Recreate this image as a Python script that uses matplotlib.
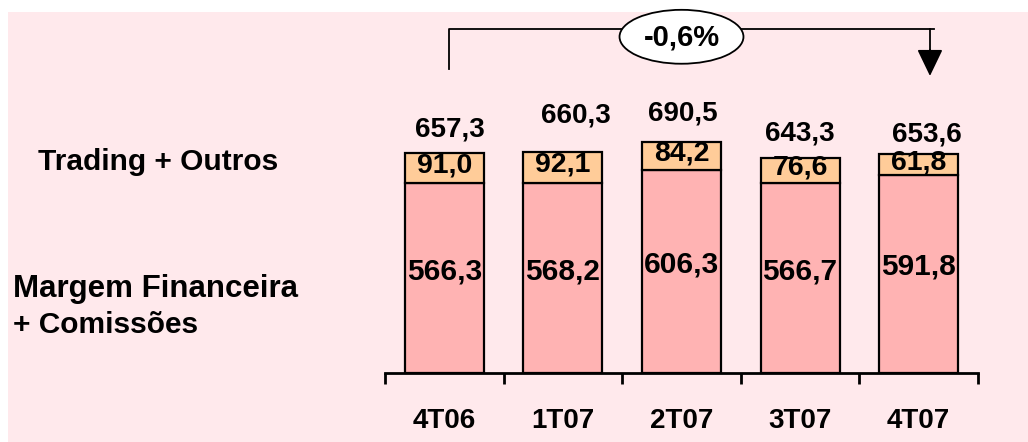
import matplotlib.pyplot as plt
from matplotlib.patches import Ellipse, Rectangle

# data
quarters = ['4T06', '1T07', '2T07', '3T07', '4T07']
margem = [566.3, 568.2, 606.3, 566.7, 591.8]
trading = [91.0, 92.1, 84.2, 76.6, 61.8]
totals = [657.3, 660.3, 690.5, 643.3, 653.6]
variation = '-0,6%'

# label nudges for the totals (points), hand placed like in the original slide
total_offsets = [(4, 17), (9, 26), (1, 20), (0, 17), (6, 14)]

plt.rcParams['font.family'] = ['Liberation Sans', 'DejaVu Sans']
plt.rcParams['font.weight'] = 'bold'

fig = plt.figure(figsize=(10.28, 4.42), dpi=100, facecolor='white')
fig.patches.append(Rectangle((8 / 1028, 0), 1, 430 / 442, transform=fig.transFigure,
                             facecolor='#FFE9EC', edgecolor='none', zorder=-1))

ax = fig.add_axes([385 / 1028, 69 / 442, 593 / 1028, 361 / 442])
ax.set_facecolor('none')

x = list(range(len(quarters)))
w = 0.666
ax.bar(x, margem, width=w, color='#FFB3B3', edgecolor='black', linewidth=1.6)
ax.bar(x, trading, width=w, bottom=margem, color='#FFCC99', edgecolor='black', linewidth=1.6)

for i in x:
    ax.text(i, margem[i] * 0.535, f'{margem[i]:.1f}'.replace('.', ','),
            ha='center', va='center', fontsize=21.5, fontweight='bold')
    ax.text(i, margem[i] + trading[i] * 0.6, f'{trading[i]:.1f}'.replace('.', ','),
            ha='center', va='center', fontsize=20.5, fontweight='bold')
    dx, dy = total_offsets[i]
    ax.annotate(f'{totals[i]:.1f}'.replace('.', ','), (i, totals[i]),
                xytext=(dx, dy), textcoords='offset points',
                ha='center', va='center', fontsize=20, fontweight='bold')

ax.set_xlim(-0.5, len(quarters) - 0.5)
ax.set_ylim(0, 1078)
for s in ['top', 'right', 'left']:
    ax.spines[s].set_visible(False)
ax.spines['bottom'].set_linewidth(2)
ax.set_yticks([])
ax.set_xticks(x)
ax.set_xticklabels(quarters, fontsize=20, fontweight='bold')
ax.tick_params(axis='x', which='major', length=0, pad=25)
ax.set_xticks([i - 0.5 for i in range(len(quarters) + 1)], minor=True)
ax.tick_params(axis='x', which='minor', length=8, width=2, direction='out')

# variation bracket
y_top = 1028
ax.plot([0.04, 0.04, 4.13], [908, y_top, y_top], color='black', lw=1.3, clip_on=False)
ax.plot([4.095, 4.095], [y_top, 950], color='black', lw=1.3, clip_on=False)
ax.annotate('', xy=(4.095, 887), xytext=(4.095, 965),
            arrowprops=dict(arrowstyle='-|>,head_length=0.395,head_width=0.19',
                            mutation_scale=42, color='black', lw=1.3,
                            shrinkA=0, shrinkB=0),
            annotation_clip=False)
ax.add_patch(Ellipse((2.0, 1004), 1.045, 161, facecolor='white', edgecolor='black',
                     lw=1.3, clip_on=False, zorder=5))
ax.text(2.0, 1002, variation, ha='center', va='center', fontsize=21,
        fontweight='bold', zorder=6)

# series labels on the left
fig.text(38 / 1028, 1 - 170 / 442, 'Trading + Outros', ha='left', va='baseline',
         fontsize=21.5, fontweight='bold')
fig.text(13 / 1028, 1 - 297 / 442, 'Margem Financeira', ha='left', va='baseline',
         fontsize=22.5, fontweight='bold')
fig.text(13 / 1028, 1 - 333 / 442, '+ Comissões', ha='left', va='baseline',
         fontsize=21.5, fontweight='bold')

fig.savefig('out.png', dpi=100, facecolor=fig.get_facecolor())
